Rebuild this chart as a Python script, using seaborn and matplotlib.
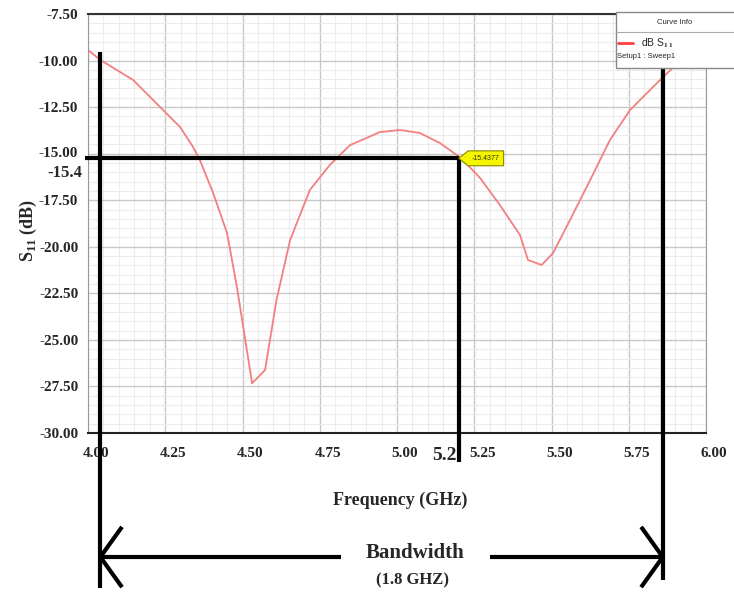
import matplotlib
matplotlib.use("Agg")
import matplotlib.pyplot as plt
import matplotlib.transforms as mtransforms
from matplotlib.patches import Rectangle, Polygon
from matplotlib.lines import Line2D
from matplotlib.ticker import MultipleLocator
import seaborn as sns

# S11 curve
freq = [4.00, 4.04, 4.146, 4.233, 4.298, 4.34, 4.362, 4.405, 4.45, 4.482, 4.531,
        4.573, 4.61, 4.654, 4.718, 4.783, 4.848, 4.945, 5.01, 5.074, 5.139, 5.207,
        5.269, 5.333, 5.398, 5.424, 5.468, 5.505, 5.56, 5.625, 5.689, 5.754, 5.819,
        5.86, 5.93, 6.00]
s11 = [-9.43, -9.97, -11.04, -12.49, -13.57, -14.64, -15.34, -17.11, -19.26, -22.16, -27.33,
       -26.62, -22.86, -19.64, -16.95, -15.6, -14.54, -13.84, -13.73, -13.89, -14.43, -15.23,
       -16.31, -17.76, -19.37, -20.71, -20.98, -20.34, -18.56, -16.42, -14.27, -12.66, -11.58,
       -10.9, -9.8, -8.9]

x_ticks = [4.00, 4.25, 4.50, 4.75, 5.00, 5.25, 5.50, 5.75, 6.00]
y_ticks = [-7.5, -10.0, -12.5, -15.0, -17.5, -20.0, -22.5, -25.0, -27.5, -30.0]

band_lo = 4.04
band_hi = 5.86
mark_f = 5.2
mark_db = -15.25
mark_text = "-15.4377"

sns.set_style("white")
plt.rcParams['font.family'] = ['Liberation Serif', 'DejaVu Serif']
plt.rcParams['font.weight'] = 'bold'
plt.rcParams['mathtext.fontset'] = 'custom'
plt.rcParams['mathtext.rm'] = 'Liberation Serif:bold'
plt.rcParams['mathtext.bf'] = 'Liberation Serif:bold'

W, H = 734, 598
fig = plt.figure(figsize=(W / 100, H / 100), dpi=100)
ax = fig.add_axes([88 / W, 1 - 433 / H, 618 / W, 419 / H])

sns.lineplot(x=freq, y=s11, ax=ax, color="#f47f7f", linewidth=1.3,
             estimator=None, sort=False, legend=False)

ax.set_xlim(4, 6)
ax.set_ylim(-30, -7.5)
ax.set_xticks(x_ticks)
ax.set_xticklabels([f"{v:.2f}" for v in x_ticks])
ax.set_yticks(y_ticks)
ax.set_yticklabels([f"{v:.2f}" for v in y_ticks])
ax.xaxis.set_minor_locator(MultipleLocator(0.05))
ax.yaxis.set_minor_locator(MultipleLocator(0.5))
ax.set_xlabel("")
ax.set_ylabel("")

ax.grid(which="major", color="#c8c8c8", lw=1.0)
ax.grid(which="minor", color="#ececec", lw=0.8)
ax.set_axisbelow(True)

ax.tick_params(axis="y", which="major", direction="out", length=6, width=1,
               color="#555555", labelsize=11, pad=1)
ax.tick_params(axis="y", which="minor", direction="out", length=3, width=1.2,
               color="#777777")
ax.tick_params(axis="x", which="major", direction="in", length=4, width=1,
               color="#555555", labelsize=11, pad=10)
ax.tick_params(axis="x", which="minor", direction="in", length=3, width=1,
               color="#888888")
for lbl in ax.get_xticklabels():
    lbl.set_transform(lbl.get_transform() +
                      mtransforms.ScaledTranslation(8 / 100, 0, fig.dpi_scale_trans))
for lbl in ax.get_yticklabels():
    if lbl.get_text() == "-15.00":
        lbl.set_transform(lbl.get_transform() +
                          mtransforms.ScaledTranslation(0, 2 / 100, fig.dpi_scale_trans))

ax.spines["top"].set_color("#333333")
ax.spines["top"].set_linewidth(1.5)
ax.spines["bottom"].set_color("#222222")
ax.spines["bottom"].set_linewidth(1.5)
ax.spines["left"].set_color("#999999")
ax.spines["right"].set_color("#999999")

# bandwidth / marker annotation lines
trans = mtransforms.blended_transform_factory(ax.transData, ax.transAxes)
mark_frac = (mark_db - ax.get_ylim()[0]) / (ax.get_ylim()[1] - ax.get_ylim()[0])
kw = dict(color="black", lw=3, clip_on=False, zorder=4, solid_capstyle="butt")
ax.plot([band_lo, band_lo], [0.909, -0.370], transform=trans, **kw)
ax.plot([band_hi, band_hi], [0.878, -0.351], transform=trans, **kw)
ax.plot([mark_f, mark_f], [mark_frac, -0.069], transform=trans, **kw)
ax.plot([3.99, mark_f], [mark_db, mark_db], **kw)

y_a = -0.296
ax.plot([band_lo, 4.82], [y_a, y_a], transform=trans, **kw)
ax.plot([5.30, band_hi], [y_a, y_a], transform=trans, **kw)
ax.plot([band_lo + 0.07, band_lo, band_lo + 0.07], [y_a + 0.072, y_a, y_a - 0.072],
        transform=trans, **kw)
ax.plot([band_hi - 0.07, band_hi, band_hi - 0.07], [y_a + 0.072, y_a, y_a - 0.072],
        transform=trans, **kw)

# yellow marker tag
tag = Polygon([(mark_f, mark_db), (mark_f + 0.03, mark_db + 0.4), (mark_f + 0.145, mark_db + 0.4),
               (mark_f + 0.145, mark_db - 0.4), (mark_f + 0.03, mark_db - 0.4)],
              closed=True, facecolor="#f5f500", edgecolor="#888800", lw=0.8,
              zorder=5, clip_on=False)
ax.add_patch(tag)
ax.text(mark_f + 0.088, mark_db, mark_text, fontsize=5, ha="center", va="center",
        family="Liberation Sans", weight="normal", color="#333300", zorder=6)

# texts
fig.text(28 / W, 1 - 230 / H, r"S$_{11}$ (dB)", rotation=90, ha="center", va="center",
         fontsize=13, weight="bold")
fig.text(400 / W, 1 - 500 / H, "Frequency (GHz)", ha="center", va="center",
         fontsize=13, weight="bold")
fig.text(415 / W, 1 - 553 / H, "Bandwidth", ha="center", va="center",
         fontsize=15, weight="bold")
fig.text(413 / W, 1 - 580 / H, "(1.8 GHZ)", ha="center", va="center",
         fontsize=12, weight="bold")
fig.text(457 / W, 1 - 455 / H, "5.2", ha="right", va="center", fontsize=14, weight="bold")
fig.text(82 / W, 1 - 173 / H, "-15.4", ha="right", va="center", fontsize=12, weight="bold")

# curve info box
fig.add_artist(Rectangle((616 / W, 1 - 68 / H), 120 / W, 56 / H, transform=fig.transFigure,
                         facecolor="white", edgecolor="#888888", lw=1, zorder=10))
fig.add_artist(Line2D([616 / W, 1], [1 - 32 / H, 1 - 32 / H], transform=fig.transFigure,
                      color="#aaaaaa", lw=0.8, zorder=11))
fig.add_artist(Line2D([618 / W, 633 / W], [1 - 43 / H, 1 - 43 / H], transform=fig.transFigure,
                      color="#ff4040", lw=2, zorder=11))
fig.text(675 / W, 1 - 22 / H, "Curve Info", ha="center", va="center", fontsize=5.5,
         family="Liberation Sans", weight="normal", zorder=12)
fig.text(641 / W, 1 - 43 / H, r"dB S$_{1\,1}$", ha="left", va="center", fontsize=7.5,
         family="Liberation Sans", weight="normal", zorder=12)
fig.text(617 / W, 1 - 56 / H, "Setup1 : Sweep1", ha="left", va="center", fontsize=5.5,
         family="Liberation Sans", weight="normal", zorder=12)

fig.savefig("out.png", dpi=100)
